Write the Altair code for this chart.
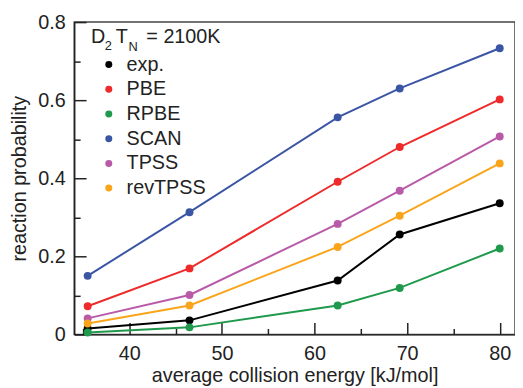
import altair as alt
import pandas as pd

# ---- data ----
energies = [35.5, 46.5, 62.5, 69.2, 80.0]
series_names = ["exp.", "PBE", "RPBE", "SCAN", "TPSS", "revTPSS"]
exp_vals = [0.015, 0.036, 0.138, 0.256, 0.336]
pbe_vals = [0.072, 0.169, 0.391, 0.480, 0.602]
rpbe_vals = [0.005, 0.018, 0.074, 0.119, 0.220]
scan_vals = [0.150, 0.313, 0.556, 0.630, 0.733]
tpss_vals = [0.041, 0.101, 0.283, 0.368, 0.507]
revtpss_vals = [0.028, 0.074, 0.224, 0.304, 0.438]
colors = ["#000000", "#ee2a2a", "#1f9a4c", "#3b55a5", "#b95aa8", "#f9a51c"]

x_major = [40, 50, 60, 70, 80]
x_minor = [35, 45, 55, 65, 75]
y_major = [0, 0.2, 0.4, 0.6, 0.8]
y_minor = [0.1, 0.3, 0.5, 0.7]
header_parts = ["D", "2", "T", "N", "= 2100K"]

FONT = "Liberation Sans"
INK = "#222222"

rows = []
for name, vals in zip(series_names, [exp_vals, pbe_vals, rpbe_vals, scan_vals, tpss_vals, revtpss_vals]):
    for e, v in zip(energies, vals):
        rows.append({"energy": e, "prob": v, "method": name})
df = pd.DataFrame(rows)

xs = alt.Scale(domain=[34.05, 81.65], nice=False, zero=False)
ys = alt.Scale(domain=[0, 0.8], nice=False)

main_x_axis = alt.Axis(orient="bottom", values=x_major, ticks=False, tickSize=0, labelPadding=9,
                       domainColor=INK, domainWidth=1.5, labelFontSize=20, labelFont=FONT,
                       labelColor=INK, title="average collision energy [kJ/mol]", titleFontSize=20,
                       titleFont=FONT, titleFontWeight="normal", titleColor=INK, titlePadding=3,
                       grid=False, format="d")
main_y_axis = alt.Axis(orient="left", values=y_major, ticks=False, tickSize=0, labelPadding=9,
                       domainColor=INK, domainWidth=1.5, labelFontSize=20, labelFont=FONT,
                       labelColor=INK, title="reaction probability", titleFontSize=20,
                       titleFont=FONT, titleFontWeight="normal", titleColor=INK, titlePadding=8,
                       grid=False, format="~g")


def tick_axis(orient, vals, size):
    return alt.Axis(orient=orient, values=vals, ticks=True, tickSize=size, offset=-size,
                    labels=False, domain=False, title="", grid=False,
                    tickColor=INK, tickWidth=1.5)


base = alt.Chart(df)

# lines: stroke scale built from the data field (sorted), so its legend is not merged with the points' legend
lines = base.mark_line(strokeWidth=2).encode(
    x=alt.X("energy:Q", scale=xs, axis=main_x_axis),
    y=alt.Y("prob:Q", scale=ys, axis=main_y_axis),
    stroke=alt.Stroke("method:N", sort=series_names, scale=alt.Scale(range=colors), legend=None),
)

points = base.mark_circle(size=64, opacity=1).encode(
    x=alt.X("energy:Q", scale=xs, axis=tick_axis("bottom", x_major, 12)),
    y=alt.Y("prob:Q", scale=ys, axis=tick_axis("left", y_major, 12)),
    color=alt.Color("method:N", scale=alt.Scale(domain=series_names, range=colors), legend=alt.Legend(
        orient="none", legendX=25, legendY=33, title="", labelFontSize=20, labelFont=FONT,
        labelColor=INK, symbolType="circle", symbolSize=50, labelOffset=8, rowPadding=5,
        padding=0, titlePadding=0, symbolStrokeWidth=0, symbolOpacity=1)),
)

minor = base.mark_circle(size=48, opacity=0).encode(
    x=alt.X("energy:Q", scale=xs, axis=tick_axis("bottom", x_minor, 6)),
    y=alt.Y("prob:Q", scale=ys, axis=tick_axis("left", y_minor, 6)),
)

head_pos = [(17, 21, 20), (31, 28.5, 13), (42, 21, 20), (55, 29, 13), (73, 21, 20)]
texts = []
for part, (hx, hy, fs) in zip(header_parts, head_pos):
    texts.append(
        alt.Chart(pd.DataFrame({"label": [part]})).mark_text(
            align="left", baseline="alphabetic", font=FONT, fontSize=fs, color=INK
        ).encode(x=alt.value(hx), y=alt.value(hy), text="label:N")
    )

chart = alt.layer(lines, points, minor, *texts).resolve_axis(
    x="independent", y="independent"
).properties(
    width=446, height=316,
    padding={"left": 67, "top": 12, "right": 0, "bottom": 52},
    autosize=alt.AutoSizeParams(type="none"),
).configure_view(stroke="#444444", strokeWidth=1.5)

chart.save("out.html", embed_options={"renderer": "svg", "actions": False})
